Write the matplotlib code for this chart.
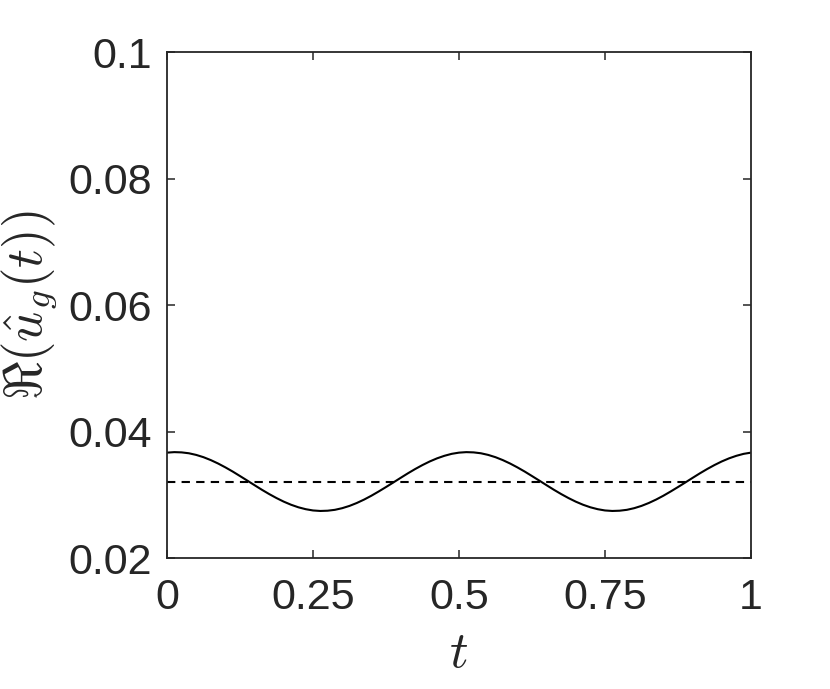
import numpy as np
import matplotlib
matplotlib.use('Agg')
import matplotlib.pyplot as plt

# values (step 0.0125 in t)
t = np.linspace(0, 1, 81)
u_re = [0.03667, 0.03675, 0.03671, 0.03657, 0.03631, 0.03595, 0.03549, 0.03495,
        0.03434, 0.03368, 0.03297, 0.03225, 0.03152, 0.03080, 0.03012, 0.02949,
        0.02892, 0.02843, 0.02803, 0.02773, 0.02753, 0.02745, 0.02749, 0.02763,
        0.02789, 0.02825, 0.02871, 0.02925, 0.02986, 0.03053, 0.03123, 0.03195,
        0.03268, 0.03340, 0.03408, 0.03471, 0.03528, 0.03577, 0.03617, 0.03648,
        0.03667, 0.03675, 0.03671, 0.03657, 0.03631, 0.03595, 0.03549, 0.03495,
        0.03434, 0.03368, 0.03297, 0.03225, 0.03152, 0.03080, 0.03012, 0.02949,
        0.02892, 0.02843, 0.02803, 0.02773, 0.02753, 0.02745, 0.02749, 0.02763,
        0.02789, 0.02825, 0.02871, 0.02925, 0.02986, 0.03053, 0.03123, 0.03195,
        0.03268, 0.03340, 0.03408, 0.03471, 0.03528, 0.03577, 0.03617, 0.03648,
        0.03667]
mean_level = 0.0321

xticks = [0, 0.25, 0.5, 0.75, 1]
xticklabels = ['0', '0.25', '0.5', '0.75', '1']
yticks = [0.02, 0.04, 0.06, 0.08, 0.1]
yticklabels = ['0.02', '0.04', '0.06', '0.08', '0.1']

plt.rcParams['font.family'] = ['Liberation Sans', 'DejaVu Sans']
plt.rcParams['mathtext.fontset'] = 'cm'
axcol = '#262626'  # matlab-ish axes gray

fig = plt.figure(figsize=(8.3, 6.89), dpi=100)
ax = fig.add_axes([0.2012, 0.19, 0.7036, 0.7345])

ax.plot(t, u_re, color='k', lw=1.5)
ax.plot([0, 1], [mean_level, mean_level], 'k--', lw=1.5, dashes=(4, 3))

ax.set_xlim(0, 1)
ax.set_ylim(0.02, 0.1)
ax.set_xticks(xticks)
ax.set_xticklabels(xticklabels)
ax.set_yticks(yticks)
ax.set_yticklabels(yticklabels)
ax.tick_params(direction='in', length=6, width=1.1, labelsize=31,
               top=True, right=True, color=axcol, labelcolor=axcol)
ax.tick_params(axis='x', pad=14)
ax.tick_params(axis='y', pad=11)
for s in ax.spines.values():
    s.set_linewidth(1.3)
    s.set_color(axcol)

ax.set_xlabel(r'$t$', fontsize=37, va='center', color=axcol)
ax.xaxis.set_label_coords(0.5, -0.188)
ax.set_ylabel(r'$\Re(\hat{u}_g(t))$', fontsize=38, va='center', color=axcol)
ax.yaxis.set_label_coords(-0.235, 0.5)

fig.savefig('out.png', dpi=100)
